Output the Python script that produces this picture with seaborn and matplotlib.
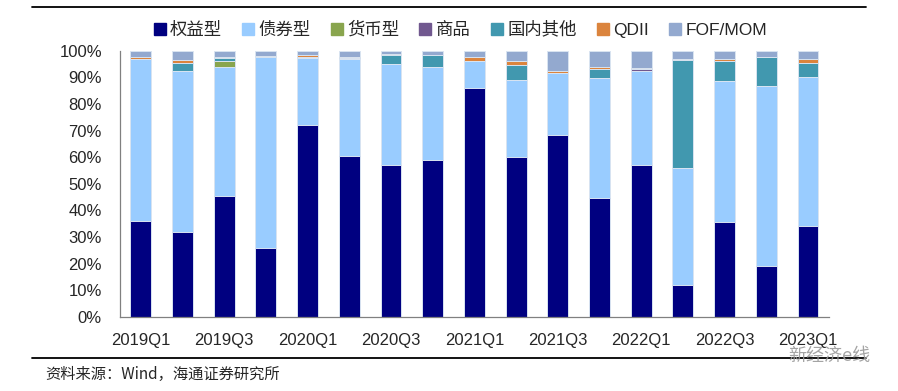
import numpy as np
import pandas as pd
import matplotlib
matplotlib.use('Agg')
import matplotlib.pyplot as plt
import seaborn as sns
from matplotlib.lines import Line2D
from matplotlib.ticker import PercentFormatter

quarters = ['2019Q1', '2019Q2', '2019Q3', '2019Q4', '2020Q1', '2020Q2', '2020Q3', '2020Q4',
            '2021Q1', '2021Q2', '2021Q3', '2021Q4', '2022Q1', '2022Q2', '2022Q3', '2022Q4', '2023Q1']
series_names = ['权益型', '债券型', '货币型', '商品', '国内其他', 'QDII', 'FOF/MOM']

# shares in percent
equity = [36, 32, 45.5, 26, 72, 60.5, 57, 59, 86, 60, 68.5, 44.5, 57, 12, 35.5, 19, 34]
bond = [61, 60.5, 48.3, 71.5, 25.3, 36.3, 38.1, 34.9, 10.1, 29.1, 23, 45.1, 35.5, 43.8, 53, 67.7, 56.2]
money = [0, 0, 2.5, 0, 0, 0, 0, 0, 0, 0, 0, 0, 0, 0, 0, 0, 0]
commodity = [0, 0, 0, 0.3, 0, 0.4, 0, 0, 0, 0, 0, 0, 0.8, 0, 0, 0, 0]
domestic_other = [0, 2.9, 1.0, 0, 0.3, 0, 3.5, 4.5, 0, 5.5, 0, 3.7, 0, 40.6, 7.8, 10.8, 5.4]
qdii = [0.5, 1.1, 0.5, 0.2, 1.0, 0.5, 0.2, 0.2, 1.5, 1.5, 0.8, 0.6, 0.2, 0.6, 0.5, 0.3, 1.3]
fof_mom = list(100 - np.sum([equity, bond, money, commodity, domestic_other, qdii], axis=0))

colors = ['#000080', '#99CCFF', '#89A54E', '#71588F', '#4198AF', '#DB843D', '#93A9CF']

df = pd.DataFrame({'quarter': quarters, '权益型': equity, '债券型': bond, '货币型': money,
                   '商品': commodity, '国内其他': domestic_other, 'QDII': qdii, 'FOF/MOM': fof_mom})
cum = df[series_names].cumsum(axis=1) / 100

sns.set_style('white')
plt.rcParams['font.family'] = ['Liberation Sans', 'Noto Sans CJK SC']

fig = plt.figure(figsize=(8.98, 3.91), dpi=100)
ax = fig.add_axes([0.1336, 0.19, 0.7894, 0.68])

# draw cumulative totals from the top layer down so each layer shows as a stack
for name, c in zip(series_names[::-1], colors[::-1]):
    sns.barplot(x=df['quarter'], y=cum[name], color=c, width=0.5, saturation=1,
                edgecolor='#d9e4f1', linewidth=0.7, ax=ax)

ax.set_xlim(-0.5, len(quarters) - 0.5)
ax.set_ylim(0, 1)
ax.set_yticks(np.arange(0, 1.01, 0.1))
ax.yaxis.set_major_formatter(PercentFormatter(1.0, decimals=0))
ax.set_xlabel('')
ax.set_ylabel('')

# labels every other quarter, tick marks on the category boundaries
ax.set_xticks(range(0, len(quarters), 2))
ax.set_xticklabels(quarters[::2])
ax.set_xticks(np.arange(-0.5, len(quarters), 1), minor=True)
ax.tick_params(axis='x', which='major', length=0, pad=12, labelsize=12)
ax.tick_params(axis='x', which='minor', length=6, width=0.8, color='#808080', direction='out')
ax.tick_params(axis='y', length=6, width=0.8, color='#808080', direction='out', pad=7, labelsize=12)

for s in ['top', 'right']:
    ax.spines[s].set_visible(False)
for s in ['left', 'bottom']:
    ax.spines[s].set_color('#808080')
    ax.spines[s].set_linewidth(0.9)

handles = [Line2D([], [], marker='s', linestyle='none', markersize=8, color=c) for c in colors]
fig.legend(handles, series_names, loc='center', bbox_to_anchor=(0.511, 0.925), ncol=7,
           frameon=False, fontsize=12.5, handletextpad=0.1, columnspacing=1.0, handlelength=1.0)

# header and footer rules
fig.add_artist(Line2D([32 / 898, 866 / 898], [1 - 7 / 391, 1 - 7 / 391], color='black', lw=1.3,
                      transform=fig.transFigure))
fig.add_artist(Line2D([32 / 898, 866 / 898], [1 - 358 / 391, 1 - 358 / 391], color='black', lw=1.3,
                      transform=fig.transFigure))

fig.text(45 / 898, 1 - 374 / 391, '资料来源：Wind，海通证券研究所', fontsize=11, va='center', ha='left',
         family=['Noto Sans CJK SC', 'DejaVu Sans'])
fig.text(870 / 898, 1 - 356 / 391, '新经济e线', fontsize=13, va='center', ha='right', color='#9a9a9a',
         family=['Noto Sans CJK SC', 'DejaVu Sans'], alpha=0.9)

fig.savefig('out.png', dpi=100)
